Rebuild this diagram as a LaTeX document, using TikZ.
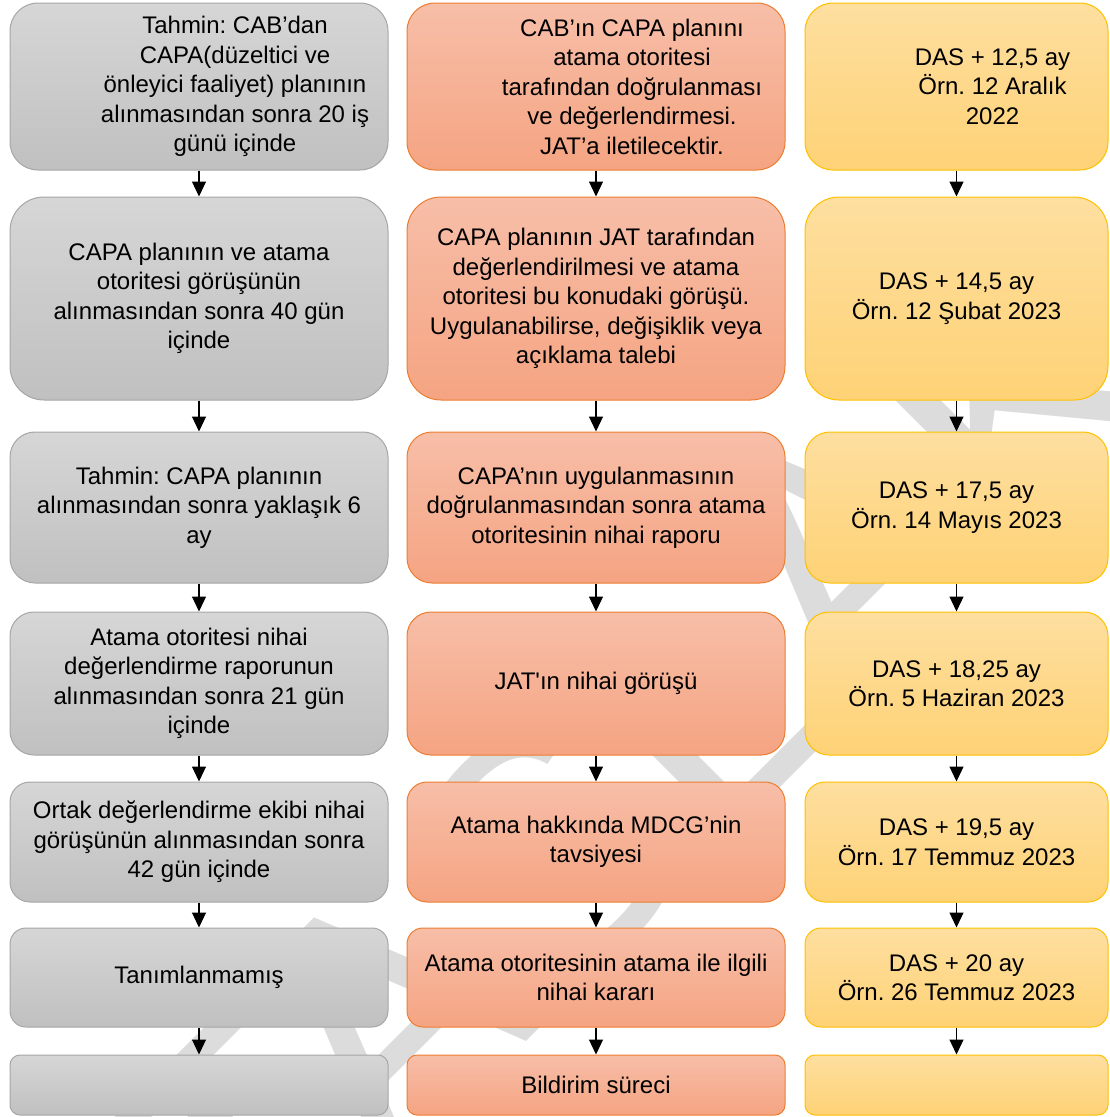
\documentclass[tikz,border=0pt]{standalone}
\usepackage{fontspec}
\setmainfont{Liberation Sans}
\usetikzlibrary{arrows.meta}
\frenchspacing

\definecolor{graytop}{RGB}{214,214,214}
\definecolor{graybot}{RGB}{192,192,192}
\definecolor{grayline}{RGB}{166,166,166}
\definecolor{orangetop}{RGB}{247,190,168}
\definecolor{orangebot}{RGB}{245,164,130}
\definecolor{orangeline}{RGB}{237,125,49}
\definecolor{yellowtop}{RGB}{254,223,160}
\definecolor{yellowbot}{RGB}{254,210,118}
\definecolor{yellowline}{RGB}{255,192,0}
\definecolor{wmgray}{RGB}{220,220,220}

\begin{document}
\begin{tikzpicture}[x=1pt, y=-1pt,
	cellfont/.style={font=\fontsize{24}{29.5}\selectfont},
	box/.style={draw, line width=1pt, rounded corners=#1, align=center, inner sep=2pt, cellfont},
	graybox/.style={box=#1, draw=grayline, top color=graytop, bottom color=graybot, minimum width=378pt},
	orangebox/.style={box=#1, draw=orangeline, top color=orangetop, bottom color=orangebot, minimum width=378pt},
	yellowbox/.style={box=#1, draw=yellowline, top color=yellowtop, bottom color=yellowbot, minimum width=303pt},
	celltext/.style={align=center, inner sep=0pt, cellfont},
	flowarrow/.style={-{Triangle[width=14pt, length=15pt]}, line width=1.2pt}]
				\useasboundingbox (0,0) rectangle (1109,1117);

				\node[rotate=45, anchor=west, text=wmgray, font=\fontsize{345}{345}\selectfont] (wm) at (170,1230) {TASLAK};

				\node[graybox=28, minimum height=167pt] (g1) at (199,86.5) {};
				\node[celltext, xshift=36pt] (g1t) at (g1.center) {Tahmin: CAB’dan\\CAPA(düzeltici ve\\önleyici faaliyet) planının\\alınmasından sonra 20 iş\\günü içinde};
				\node[graybox=34, minimum height=203pt] (g2) at (199,298.5) {CAPA planının ve atama\\otoritesi görüşünün\\alınmasından sonra 40 gün\\içinde};
				\node[graybox=25, minimum height=151pt] (g3) at (199,507.5) {Tahmin: CAPA planının\\alınmasından sonra yaklaşık 6\\ay};
				\node[graybox=24, minimum height=143pt] (g4) at (199,683.5) {Atama otoritesi nihai\\değerlendirme raporunun\\alınmasından sonra 21 gün\\içinde};
				\node[graybox=20, minimum height=120pt] (g5) at (199,842) {Ortak değerlendirme ekibi nihai\\görüşünün alınmasından sonra\\42 gün içinde};
				\node[graybox=16, minimum height=99pt] (g6) at (199,977.5) {Tanımlanmamış};
				\node[graybox=10, minimum height=60pt] (g7) at (199,1085) {};

				\node[orangebox=28, minimum height=167pt] (o1) at (596,86.5) {};
				\node[celltext, xshift=36pt] (o1t) at (o1.center) {CAB’ın CAPA planını\\atama otoritesi\\tarafından doğrulanması\\ve değerlendirmesi.\\JAT’a iletilecektir.};
				\node[orangebox=34, minimum height=203pt] (o2) at (596,298.5) {CAPA planının JAT tarafından\\değerlendirilmesi ve atama\\otoritesi bu konudaki görüşü.\\Uygulanabilirse, değişiklik veya\\açıklama talebi};
				\node[orangebox=25, minimum height=151pt] (o3) at (596,507.5) {CAPA’nın uygulanmasının\\doğrulanmasından sonra atama\\otoritesinin nihai raporu};
				\node[orangebox=24, minimum height=143pt] (o4) at (596,683.5) {JAT\textquotesingle ın nihai görüşü};
				\node[orangebox=20, minimum height=120pt] (o5) at (596,842) {Atama hakkında MDCG’nin\\tavsiyesi};
				\node[orangebox=16, minimum height=99pt] (o6) at (596,977.5) {Atama otoritesinin atama ile ilgili\\nihai kararı};
				\node[orangebox=10, minimum height=60pt] (o7) at (596,1085) {Bildirim süreci};

				\node[yellowbox=28, minimum height=167pt] (y1) at (956.5,86.5) {};
				\node[celltext, xshift=36pt] (y1t) at (y1.center) {DAS + 12,5 ay\\Örn. 12 Aralık\\2022};
				\node[yellowbox=34, minimum height=203pt] (y2) at (956.5,298.5) {DAS + 14,5 ay\\Örn. 12 Şubat 2023};
				\node[yellowbox=25, minimum height=151pt] (y3) at (956.5,507.5) {DAS + 17,5 ay\\Örn. 14 Mayıs 2023};
				\node[yellowbox=24, minimum height=143pt] (y4) at (956.5,683.5) {DAS + 18,25 ay\\Örn. 5 Haziran 2023};
				\node[yellowbox=20, minimum height=120pt] (y5) at (956.5,842) {DAS + 19,5 ay\\Örn. 17 Temmuz 2023};
				\node[yellowbox=16, minimum height=99pt] (y6) at (956.5,977.5) {DAS + 20 ay\\Örn. 26 Temmuz 2023};
				\node[yellowbox=10, minimum height=60pt] (y7) at (956.5,1085) {};

				\foreach \c in {g,o,y} {
					\draw[flowarrow] (\c1) -- (\c2);
					\draw[flowarrow] (\c2) -- (\c3);
					\draw[flowarrow] (\c3) -- (\c4);
					\draw[flowarrow] (\c4) -- (\c5);
					\draw[flowarrow] (\c5) -- (\c6);
					\draw[flowarrow] (\c6) -- (\c7);
				}

\end{tikzpicture}
\end{document}
